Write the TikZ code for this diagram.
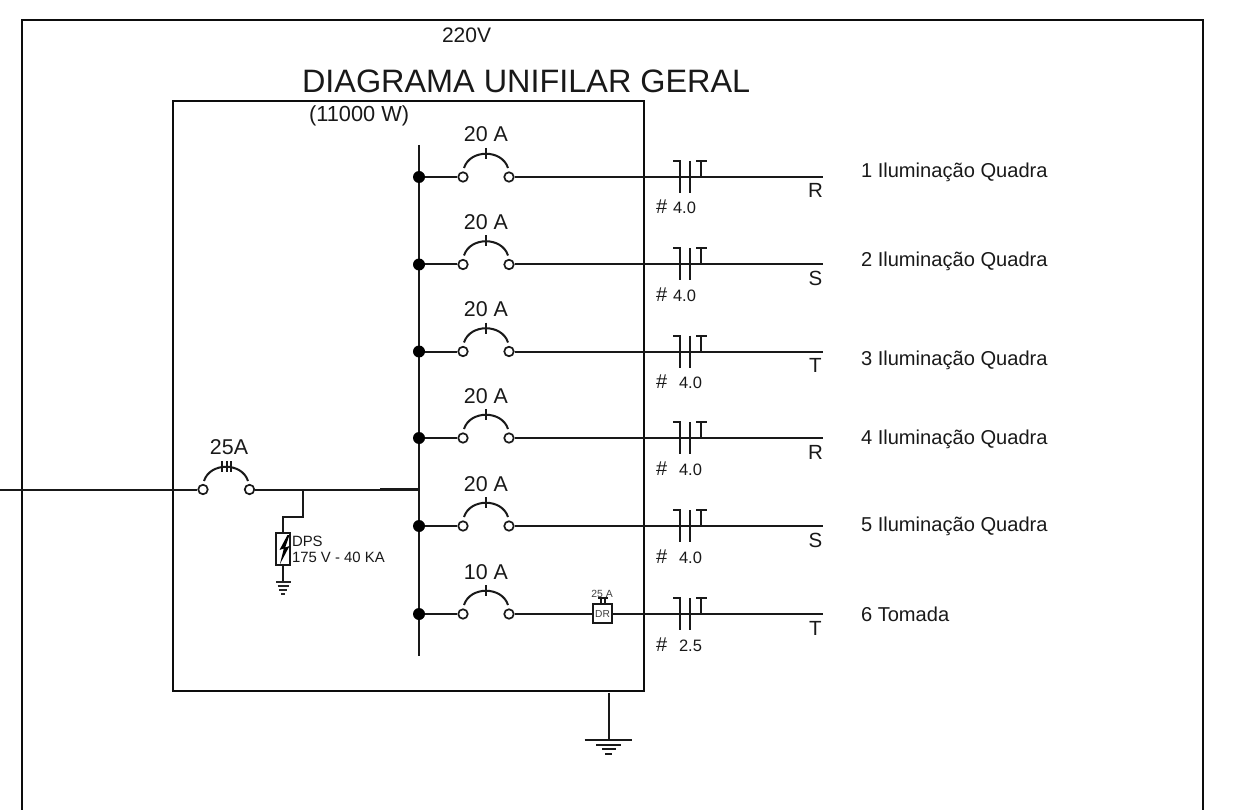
\documentclass[tikz,border=0pt]{standalone}
\usepackage{fontspec}
\setmainfont{Liberation Sans}
\newcommand{\fsz}[1]{\fontsize{#1}{#1}\selectfont}
\tikzset{
  wire/.style={line width=2pt,black!90},
  frame/.style={line width=2.6pt,black!95},
  txt/.style={inner sep=0pt,outer sep=0pt,anchor=base west,text=black!90},
  ctxt/.style={inner sep=0pt,outer sep=0pt,anchor=base,text=black!90},
  term/.style={circle,draw=black!90,line width=1.7pt,fill=white,minimum size=9.5pt,inner sep=0pt},
  jdot/.style={circle,fill=black,minimum size=12pt,inner sep=0pt},
  panel/.style={draw=black!95,line width=2.8pt,minimum width=471pt,minimum height=590pt,inner sep=0pt},
  dpsbox/.style={draw=black!90,line width=2pt,minimum width=14pt,minimum height=32pt,inner sep=0pt},
  drbox/.style={draw=black!90,line width=2pt,minimum width=18.5pt,minimum height=18.5pt,inner sep=0pt,text=black!75,font=\fsz{10.2}}
}
\begin{document}
\begin{tikzpicture}[x=1pt,y=-1pt]
\useasboundingbox (0,0) rectangle (1242,810);
% outer frame, open at the bottom edge
\draw[frame] (22,830) -- (22,20) -- (1203,20) -- (1203,830);
% panel
\node[panel] (panel) at (408.5,396) {};
% titles
\node[txt,font=\fsz{21}] (volt) at (442,43) {220V};
\node[txt,font=\fsz{32.4}] (title) at (302,93) {DIAGRAMA UNIFILAR GERAL};
\node[txt,font=\fsz{21.8}] (power) at (309,122) {(11000 W)};
% bus
\coordinate (busT) at (419,145);
\coordinate (busB) at (419,656);
\draw[wire] (busT) -- (busB);
% branches
\foreach \i/\y/\amp/\ph/\tx/\ty/\gx/\gv in {
  1/177/20 A/R/1 Iluminação Quadra/178/673/4.0,
  2/264.5/20 A/S/2 Iluminação Quadra/267/673/4.0,
  3/351.5/20 A/T/3 Iluminação Quadra/365/679/4.0,
  4/438/20 A/R/4 Iluminação Quadra/444/679/4.0,
  5/526/20 A/S/5 Iluminação Quadra/531/679/4.0,
  6/614/10 A/T/6 Tomada/621/679/2.5}{
  \coordinate (end\i) at (823,\y);
  \node[jdot] (dot\i) at (419,\y) {};
  \node[term] (oa\i) at (463,\y) {};
  \node[term] (ob\i) at (509,\y) {};
  \draw[wire] (dot\i) -- (oa\i);
  \draw[wire] (ob\i) -- (end\i);
  \draw[wire] (464,\y-9) .. controls (470,\y-28) and (502,\y-28) .. (508,\y-9);
  \draw[wire] (486,\y-29) -- (486,\y-18);
  \draw[wire] (673,\y-16) -- (680,\y-16) -- (680,\y+16);
  \draw[wire] (690,\y-16) -- (690,\y+16);
  \draw[wire] (696,\y-16) -- (707,\y-16) (701,\y-16) -- (701,\y);
  \node[ctxt,font=\fsz{21.4}] (amp\i) at (486,\y-35) {\amp};
  \node[ctxt,font=\fsz{20.5}] (ph\i) at (815.5,\y+21) {\ph};
  \node[txt,font=\fsz{20}] (hash\i) at (656,\y+37) {\#};
  \node[txt,font=\fsz{16.5}] (gauge\i) at (\gx,\y+37) {\gv};
  \node[txt,font=\fsz{20.1}] (label\i) at (861,\ty) {\tx};
}
% DR on last branch
\node[drbox,fill=white] (dr) at (602.5,613.5) {DR};
\coordinate (drT) at (603,604);
\draw[wire] (600.5,597) -- (600.5,604) (605,597) -- (605,604);
\draw[wire] (597.5,597.5) -- (608,597.5);
\node[ctxt,font=\fsz{10.4},text=black!75] (drA) at (602,597) {25 A};
% main feed
\coordinate (feed) at (0,489.5);
\node[term] (ma) at (203,489.5) {};
\node[term] (mb) at (249.5,489.5) {};
\coordinate (mj) at (303,489.5);
\coordinate (mbus) at (419,489.5);
\coordinate (mthick) at (380,489.5);
\draw[wire] (feed) -- (ma);
\draw[wire] (mb) -- (mbus);
\draw[line width=2.6pt,black!90] (mthick) -- (mbus);
\draw[wire] (204,481) .. controls (210,462) and (242,462) .. (248,481);
\draw[wire] (222,461) -- (222,472) (226.5,461) -- (226.5,472) (231,461) -- (231,472);
\node[ctxt,font=\fsz{21.4}] (mamp) at (229,454) {25A};
% DPS
\node[dpsbox] (dps) at (283,549) {};
\draw[wire] (mj) -- (303,516.5) -- (283,516.5) -- (dps.north);
\fill[black] (287.5,535) -- (279.5,550) -- (283.8,548.5) -- (280,564) -- (289.5,546) -- (285.2,547.5) -- (289.5,535) -- cycle;
\node[txt,font=\fsz{14.9}] (dpsA) at (292,546) {DPS};
\node[txt,font=\fsz{14.9}] (dpsB) at (292,562) {175 V - 40 KA};
\coordinate (gs) at (283,581);
\draw[wire] (dps.south) -- (gs);
\draw[line width=2pt,black!85] (276,581.5) -- (290.5,581.5) (277.5,585.5) -- (289,585.5) (279,589.5) -- (287,589.5) (281,593.5) -- (285,593.5);
% panel ground
\coordinate (gp) at (608.5,740);
\draw[wire] (608.5,692.5) -- (gp);
\draw[wire] (584.5,740) -- (632,740) (596,744.5) -- (621,744.5) (602,749) -- (616,749) (605,753.5) -- (612,753.5);
\end{tikzpicture}
\end{document}
